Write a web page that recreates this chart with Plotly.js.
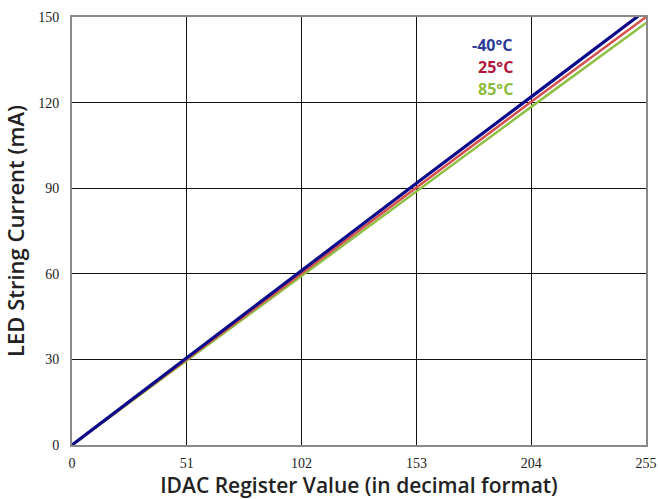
<!DOCTYPE html>
<html>
<head>
<meta charset="utf-8">
<script src="https://cdn.plot.ly/plotly-3.0.1.min.js"></script>
<style>html,body{margin:0;padding:0;background:#fff;}#chart{width:658px;height:499px;}</style>
</head>
<body>
<div id="chart"></div>
<script>
const idac = [0, 51, 102, 153, 204, 255];
const currentMinus40 = [0, 30.6, 61.2, 91.7, 122.0, 152.4];
const current25 = [0, 30.1, 60.2, 90.3, 120.3, 150.0];
const current85 = [0, 29.7, 59.4, 89.0, 118.5, 147.9];
const seriesNames = ['-40°C', '25°C', '85°C'];
const lineColors = ['#0a0a8a', '#d5504f', '#8fc045'];
const textColors = ['#2b3c98', '#b0173a', '#8cbc3c'];
const xTicks = [0, 51, 102, 153, 204, 255];
const yTicks = [0, 30, 60, 90, 120, 150];

const traces = [
  {x: idac, y: current85, name: seriesNames[2], mode: 'lines', line: {color: lineColors[2], width: 2.5}},
  {x: idac, y: current25, name: seriesNames[1], mode: 'lines', line: {color: lineColors[1], width: 2.5}},
  {x: idac, y: currentMinus40, name: seriesNames[0], mode: 'lines', line: {color: lineColors[0], width: 3.2}}
];

const tickFont = {family: 'Liberation Serif, serif', size: 14, color: '#222'};
const xTitleFont = {family: 'Open Sans, sans-serif', size: 21, color: '#222', weight: 600};
const yTitleFont = {family: 'Open Sans, sans-serif', size: 22, color: '#222', weight: 600};

const annotations = seriesNames.map((n, i) => ({
  xref: 'paper', yref: 'paper', x: 0.772, y: 0.935 - i * 0.052,
  xanchor: 'right', yanchor: 'middle', showarrow: false,
  text: '<b>' + n + '</b>',
  font: {family: 'Open Sans, sans-serif', size: 16, color: textColors[i]}
}));

const layout = {
  width: 658, height: 499,
  margin: {l: 72, r: 12, t: 17, b: 54},
  paper_bgcolor: '#fff', plot_bgcolor: '#fff',
  showlegend: false,
  xaxis: {
    range: [0, 255], tickvals: xTicks, ticktext: xTicks.map(String),
    showgrid: true, gridcolor: '#111', gridwidth: 1,
    zeroline: false, showline: true, linecolor: '#8a8a8a', linewidth: 2, mirror: true,
    ticks: '', ticklabelstandoff: 4, tickfont: tickFont,
    title: {text: 'IDAC Register Value (in decimal format)', font: xTitleFont, standoff: 3}
  },
  yaxis: {
    range: [0, 150], tickvals: yTicks, ticktext: yTicks.map(String),
    showgrid: true, gridcolor: '#111', gridwidth: 1,
    zeroline: false, showline: true, linecolor: '#8a8a8a', linewidth: 2, mirror: true,
    ticks: '', ticklabelstandoff: 8, tickfont: tickFont,
    title: {text: 'LED String Current (mA)', font: yTitleFont, standoff: 8}
  },
  annotations: annotations
};

Plotly.newPlot('chart', traces, layout, {displayModeBar: false, staticPlot: true});
</script>
</body>
</html>
